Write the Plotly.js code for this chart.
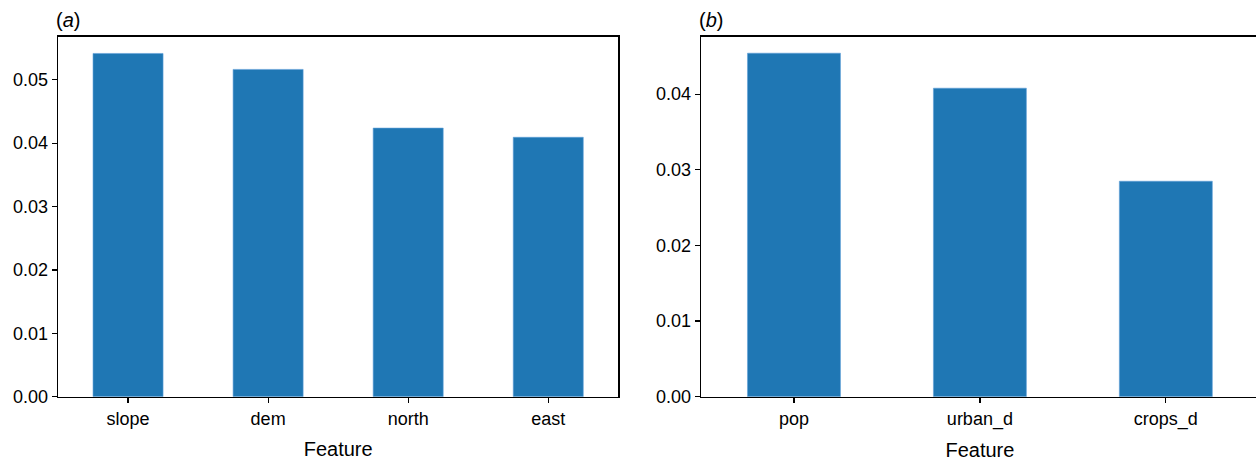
<!DOCTYPE html>
<html>
<head>
<meta charset="utf-8">
<script src="https://cdn.plot.ly/plotly-3.0.1.min.js"></script>
<style>
html, body { margin: 0; padding: 0; overflow: hidden; background: #fff; }
#chart { width: 1262px; height: 463px; }
</style>
</head>
<body>
<div id="chart"></div>
<script>
// Panel (a): terrain features
const featuresA = ["slope", "dem", "north", "east"];
const importanceA = [0.05416, 0.05164, 0.04238, 0.04093];

// Panel (b): human features
const featuresB = ["pop", "urban_d", "crops_d"];
const importanceB = [0.04542, 0.04079, 0.02849];

const xAxisTitle = "Feature";
const panelLabels = ["(<i>a</i>)", "(<i>b</i>)"];

const W = 1262, H = 463;
const barColor = "#1f77b4";
const font = { family: "Liberation Sans, Arial, sans-serif", size: 18, color: "#000" };

const traces = [
  { type: "bar", x: featuresA, y: importanceA, xaxis: "x", yaxis: "y",
    width: 0.5, marker: { color: barColor, line: { color: "#5fa0d8", width: 0.6 } },
    hoverinfo: "x+y", showlegend: false },
  { type: "bar", x: featuresB, y: importanceB, xaxis: "x2", yaxis: "y2",
    width: 0.5, marker: { color: barColor, line: { color: "#5fa0d8", width: 0.6 } },
    hoverinfo: "x+y", showlegend: false }
];

const yBot = (H - 396.7) / H, yTop = (H - 36.7) / H;

function xax(domain, n) {
  return {
    domain: domain, range: [-0.5, n - 0.5], type: "category",
    showline: true, mirror: true, linecolor: "#000", linewidth: 1.3,
    ticks: "outside", ticklen: 5, tickwidth: 1.2, tickcolor: "#000",
    showgrid: false, zeroline: false, fixedrange: true,
    tickfont: font,
    title: { text: xAxisTitle, font: { family: font.family, size: 20, color: "#000" }, standoff: 14 }
  };
}
function yax(anchor, range, dtick) {
  return {
    domain: [yBot, yTop], range: range, anchor: anchor,
    showline: true, mirror: true, linecolor: "#000", linewidth: 1.3,
    ticks: "outside", ticklen: 5, tickwidth: 1.2, tickcolor: "#000",
    showgrid: false, zeroline: false, fixedrange: true,
    tick0: 0, dtick: dtick, tickformat: ".2f",
    tickfont: font
  };
}

const layout = {
  width: W, height: H,
  margin: { l: 0, r: 0, t: 0, b: 0 },
  paper_bgcolor: "#fff", plot_bgcolor: "#fff",
  font: font,
  xaxis: Object.assign(xax([58 / W, 618.3 / W], featuresA.length), { anchor: "y" }),
  yaxis: yax("x", [0, 0.0568], 0.01),
  xaxis2: Object.assign(xax([701 / W, 1258.8 / W], featuresB.length), { anchor: "y2" }),
  yaxis2: yax("x2", [0, 0.0476], 0.01),
  annotations: [
    { text: panelLabels[0], xref: "paper", yref: "paper", x: 54 / W, y: (H - 20) / H,
      xanchor: "left", yanchor: "middle", showarrow: false,
      font: { family: font.family, size: 20, color: "#000" } },
    { text: panelLabels[1], xref: "paper", yref: "paper", x: 697 / W, y: (H - 20) / H,
      xanchor: "left", yanchor: "middle", showarrow: false,
      font: { family: font.family, size: 20, color: "#000" } }
  ]
};

Plotly.newPlot("chart", traces, layout, { displayModeBar: false, staticPlot: true });
</script>
</body>
</html>
